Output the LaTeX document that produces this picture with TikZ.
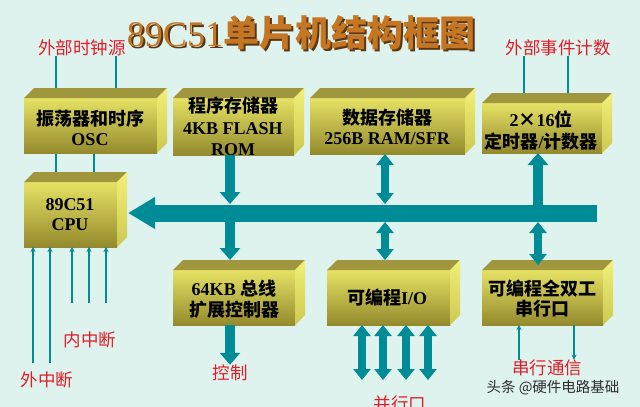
\documentclass[tikz,border=0pt]{standalone}
\usepackage{fontspec}
\setmainfont{Liberation Serif}
\newfontfamily\cjk{Noto Sans CJK SC}
\usetikzlibrary{arrows.meta,calc}
\definecolor{bg}{RGB}{222,242,238}
\definecolor{teal2}{RGB}{0,140,150}
\definecolor{boxtop}{RGB}{230,226,100}
\definecolor{boxbot}{RGB}{148,138,45}
\definecolor{topfc}{RGB}{160,150,62}
\definecolor{rightup}{RGB}{242,240,120}
\definecolor{rightdn}{RGB}{205,200,80}
\definecolor{lblred}{RGB}{225,30,40}
\definecolor{titleor}{RGB}{196,118,35}
\definecolor{titlesh}{RGB}{90,55,20}
\newcommand\C[1]{{\cjk #1}}
\newcommand\TitleText{\fontsize{36}{36}\selectfont 89C51\C{\bfseries 单片机结构框图}}
\newcommand\boxfaces[1]{%
  \fill[topfc] (#1.north west) -- ++(10,-10) -- ($(#1.north east)+(10,-10)$) -- (#1.north east) -- cycle;
  \shade[top color=rightup,bottom color=rightdn] (#1.north east) -- ++(10,-10) -- ($(#1.south east)+(10,-10)$) -- (#1.south east) -- cycle;}
\pgfdeclarelayer{bgl}\pgfdeclarelayer{back}\pgfsetlayers{bgl,back,main}
\begin{document}
\begin{tikzpicture}[x=1pt,y=-1pt,
  front/.style={top color=boxtop,bottom color=boxbot,inner sep=0pt,outer sep=0pt,draw=none},
  boxtext/.style={align=center,text=black,inner sep=0pt,font=\bfseries\fontsize{18}{20}\selectfont},
  lbl/.style={text=lblred,inner sep=0pt,font=\cjk\fontsize{17.5}{17.5}\selectfont},
  thinline/.style={draw=teal2,line width=1.3pt},
  thinarrow/.style={thinline,-{Stealth[length=5pt,width=5pt]}},
  bigarrow/.style={draw=teal2,line width=10pt,-{Triangle[width=20pt,length=12pt]}},
  midarrow/.style={draw=teal2,line width=8pt,{Triangle[width=17pt,length=11pt]}-{Triangle[width=17pt,length=11pt]}},
  busarrow/.style={draw=teal2,line width=17pt,-{Triangle[width=30pt,length=27pt]}}]
\useasboundingbox (0,0) rectangle (640,407);
\clip (0,0) rectangle (640,407);
\begin{pgfonlayer}{bgl}
\fill[bg] (0,0) rectangle (640,407);
\end{pgfonlayer}

% title with shadow in one node
\node[inner sep=0pt] (title) at (301,34) {\rlap{\raisebox{-2pt}{\hspace{2pt}\color{titlesh}\TitleText}}\color{titleor}\TitleText};

% boxes (front faces)
\node[front,minimum width=133pt,minimum height=55pt] (osc) at (90.5,125.5) {};
\node[front,minimum width=121pt,minimum height=57pt] (rom) at (233.5,126.5) {};
\node[front,minimum width=155pt,minimum height=56pt] (ram) at (387.5,126) {};
\node[front,minimum width=120pt,minimum height=50pt] (timer) at (542,128) {};
\node[front,minimum width=93pt,minimum height=65pt] (cpu) at (70.5,214.5) {};
\node[front,minimum width=122pt,minimum height=55pt] (ext) at (234,297.5) {};
\node[front,minimum width=123pt,minimum height=55pt] (io) at (388.5,297.5) {};
\node[front,minimum width=121pt,minimum height=55pt] (uart) at (542.5,297.5) {};
\boxfaces{osc}\boxfaces{rom}\boxfaces{ram}\boxfaces{timer}
\boxfaces{cpu}\boxfaces{ext}\boxfaces{io}\boxfaces{uart}

% box texts
\node[boxtext] (osct) at (90,128) {\C{振荡器和时序}\\OSC};
\node[boxtext] (romt) at (233,126.5) {\C{程序存储器}\\[1.5pt]4KB FLASH\\[1.5pt]ROM};
\node[boxtext] (ramt) at (387,127) {\C{数据存储器}\\256B RAM/SFR};
\node[boxtext] (timert) at (541,131) {2\C{×}16\C{位}\\[2pt]\C{定时器}/\C{计数器}};
\node[boxtext] (cput) at (70,215) {89C51\\CPU};
\node[boxtext] (extt) at (234,299) {64KB \C{总线}\\[1pt]\C{扩展控制器}};
\node[boxtext] (iot) at (387,298) {\C{可编程}I/O};
\node[boxtext] (uartt) at (542,299) {\C{可编程全双工}\\\C{串行口}};

% red labels
\node[lbl] (clk) at (82,48) {外部时钟源};
\node[lbl] (evt) at (558,48) {外部事件计数};
\node[lbl] (nz) at (90,340) {内中断};
\node[lbl] (wz) at (47,380) {外中断};
\node[lbl] (ctl) at (230,373) {控制};
\node[lbl] (sc) at (547,368) {串行通信};
\node[lbl] (par) at (400,404) {并行口};
\node[text={rgb,255:red,45;green,45;blue,45},inner sep=0pt,font=\cjk\fontsize{14.5}{14.5}\selectfont] (wm) at (553,388) {头条 @硬件电路基础};

% thin lines behind boxes
\begin{pgfonlayer}{back}
\draw[thinline] (clk.south -| 56,0) -- (osc.north -| 56,0);
\draw[thinline] (clk.south -| 116,0) -- (osc.north -| 116,0);
\draw[thinline] (evt.south -| 524,0) -- (timer.north -| 524,0);
\draw[thinline] (evt.south -| 568,0) -- (timer.north -| 568,0);
\draw[thinline] (osc.south -| 56,0) -- (cpu.north -| 56,0);
\draw[thinline] (osc.south -| 94,0) -- (cpu.north -| 94,0);
\end{pgfonlayer}

% interrupt inputs
\coordinate (wzTop) at (0,363);
\coordinate (nzTop) at (0,303);
\foreach \x in {33,50} \draw[thinarrow] (wzTop -| \x,0) -- (cpu.south -| \x,0);
\foreach \x in {72,89,106} \draw[thinarrow] (nzTop -| \x,0) -- (cpu.south -| \x,0);

% bus
\coordinate (busR) at (597,213);
\coordinate (busL) at ($(cpu.east |- busR)+(11,0)$);
\coordinate (busTop) at (0,204);
\coordinate (busBot) at (0,222);
\draw[bigarrow] (rom.south -| 230,0) -- (busTop -| 230,0);
\draw[midarrow] (ram.south -| 385,0) -- (busTop -| 385,0);
\draw[bigarrow] (busR -| 538,0) -- (timer.south -| 538,0);
\draw[busarrow] (busR) -- (busL);
\draw[bigarrow] (busBot -| 230,0) -- ($(ext.north -| 230,0)+(0,-10)$);
\draw[midarrow] (busBot -| 385,0) -- ($(io.north -| 385,0)+(0,-10)$);
\draw[midarrow] (busBot -| 538,0) -- ($(uart.north -| 538,0)+(0,-5)$);

% outputs
\draw[bigarrow] (ext.south -| 230,0) -- (ctl.north -| 230,0);
\coordinate (parTop) at (0,380);
\foreach \x in {362,383,406,428} \draw[midarrow] (io.south -| \x,0) -- (parTop -| \x,0);
\draw[thinarrow] (sc.north -| 519,0) -- (uart.south -| 519,0);
\draw[thinarrow] (uart.south -| 574,0) -- (sc.north -| 574,0);
\end{tikzpicture}
\end{document}
